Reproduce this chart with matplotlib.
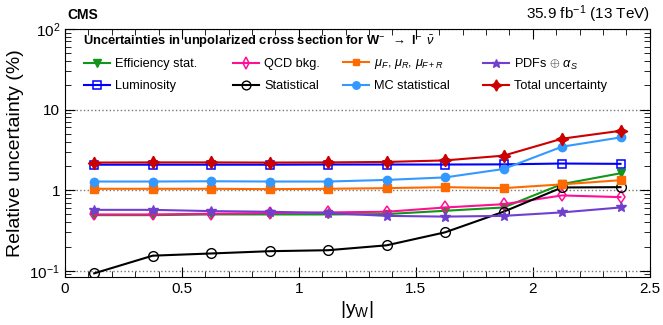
import matplotlib
matplotlib.use("Agg")
from matplotlib import pyplot as plt
from matplotlib.ticker import FixedLocator, MultipleLocator, LogLocator, NullFormatter

plt.rcParams['font.family'] = ['Liberation Sans', 'DejaVu Sans']
plt.rcParams['mathtext.fontset'] = 'custom'
plt.rcParams['mathtext.rm'] = 'Liberation Sans'
plt.rcParams['mathtext.it'] = 'Liberation Sans:italic'
plt.rcParams['mathtext.bf'] = 'Liberation Sans:bold'

# bin centres in |y_W|
y_w = [0.125, 0.375, 0.625, 0.875, 1.125, 1.375, 1.625, 1.875, 2.125, 2.375]

# relative uncertainties (%) per bin
eff_stat = [0.49, 0.49, 0.50, 0.50, 0.50, 0.505, 0.555, 0.61, 1.19, 1.62]
qcd_bkg = [0.50, 0.50, 0.51, 0.52, 0.53, 0.54, 0.61, 0.67, 0.86, 0.82]
scales = [1.04, 1.04, 1.04, 1.03, 1.04, 1.06, 1.09, 1.06, 1.18, 1.33]
pdfs = [0.57, 0.57, 0.55, 0.54, 0.52, 0.48, 0.47, 0.48, 0.53, 0.61]
lumi = [2.07, 2.07, 2.07, 2.07, 2.08, 2.08, 2.08, 2.09, 2.14, 2.12]
stat = [0.093, 0.154, 0.164, 0.175, 0.18, 0.207, 0.30, 0.54, 1.08, 1.09]
mc_stat = [1.28, 1.28, 1.29, 1.28, 1.28, 1.34, 1.44, 1.83, 3.46, 4.51]
total = [2.20, 2.21, 2.21, 2.20, 2.21, 2.24, 2.34, 2.68, 4.35, 5.45]

W, H = 663, 325
fig = plt.figure(figsize=(W / 100, H / 100), dpi=100)
ax = fig.add_axes([0.098, 0.148, 0.882, 0.763])

lw = 1.5
h_eff, = ax.plot(y_w, eff_stat, color='#12951a', lw=lw, marker='v', ms=6)
h_lumi, = ax.plot(y_w, lumi, color='#0000ff', lw=lw, marker='s', ms=6, mfc='none', mew=1.1)
h_qcd, = ax.plot(y_w, qcd_bkg, color='#ff0f96', lw=lw, marker='d', ms=6.5, mfc='none', mew=1.1)
h_stat, = ax.plot(y_w, stat, color='black', lw=lw, marker='o', ms=7, mfc='none', mew=1.0)
h_scale, = ax.plot(y_w, scales, color='#ff6a00', lw=lw, marker='s', ms=5.5)
h_mc, = ax.plot(y_w, mc_stat, color='#3399ff', lw=lw, marker='o', ms=6)
h_pdf, = ax.plot(y_w, pdfs, color='#6f3fd0', lw=lw, marker='*', ms=7)
h_tot, = ax.plot(y_w, total, color='#cc0000', lw=lw, marker=(4, 1, 0), ms=9)

ax.set_yscale('log')
ax.set_xlim(0, 2.5)
ax.set_ylim(0.084, 100)

ax.yaxis.set_major_locator(FixedLocator([0.1, 1, 10, 100]))
ax.set_yticklabels([r'$10^{-1}$', '1', '10', r'$10^{2}$'])
ax.yaxis.set_minor_locator(LogLocator(base=10, subs=range(2, 10)))
ax.yaxis.set_minor_formatter(NullFormatter())
ax.xaxis.set_minor_locator(MultipleLocator(0.1))
ax.set_xticks([0, 0.5, 1, 1.5, 2, 2.5])
ax.set_xticklabels(['0', '0.5', '1', '1.5', '2', '2.5'])

ax.tick_params(which='both', direction='in', top=True, right=True, labelsize=11)
ax.tick_params(which='major', length=7.5)
ax.tick_params(which='minor', length=4)
ax.yaxis.grid(True, which='major', linestyle=':', color='#777777', lw=1)

ax.set_xlabel(r'|y$_{\mathrm{W}}$|', fontsize=14, labelpad=2)
ax.set_ylabel('Relative uncertainty (%)', fontsize=14)

fig.text(67 / W, 1 - 19 / H, 'CMS', fontsize=10, fontweight='bold', ha='left', va='baseline')
fig.text(650 / W, 1 - 19 / H, r'35.9 fb$^{-1}$ (13 TeV)', fontsize=11, ha='right', va='baseline')

fig.text(83 / W, 1 - 45 / H,
         r'Uncertainties in unpolarized cross section for W$^{-}\;$ $\rightarrow$ l$^{-}\,$ $\bar{\nu}$',
         fontsize=9.3, fontweight='bold', ha='left', va='baseline')

# legend entries: handle, label, left x and row centre y (pixels)
entries = [
    (h_eff, 'Efficiency stat.', 84, 64),
    (h_lumi, 'Luminosity', 84, 86),
    (h_qcd, 'QCD bkg.', 233, 64),
    (h_stat, 'Statistical', 233, 86),
    (h_scale, r'$\mu_{F}$, $\mu_{R}$, $\mu_{F+R}$', 343, 64),
    (h_mc, 'MC statistical', 343, 86),
    (h_pdf, r'PDFs $\oplus$ $\alpha_{S}$', 483, 64),
    (h_tot, 'Total uncertainty', 483, 86),
]
for h, lab, px, py in entries:
    fig.legend([h], [lab], loc='center left', bbox_to_anchor=(px / W, 1 - py / H),
               frameon=False, fontsize=9.2, borderpad=0, borderaxespad=0,
               handlelength=2.0, handletextpad=0.45, markerscale=0.9)

plt.savefig('out.png', dpi=100)
